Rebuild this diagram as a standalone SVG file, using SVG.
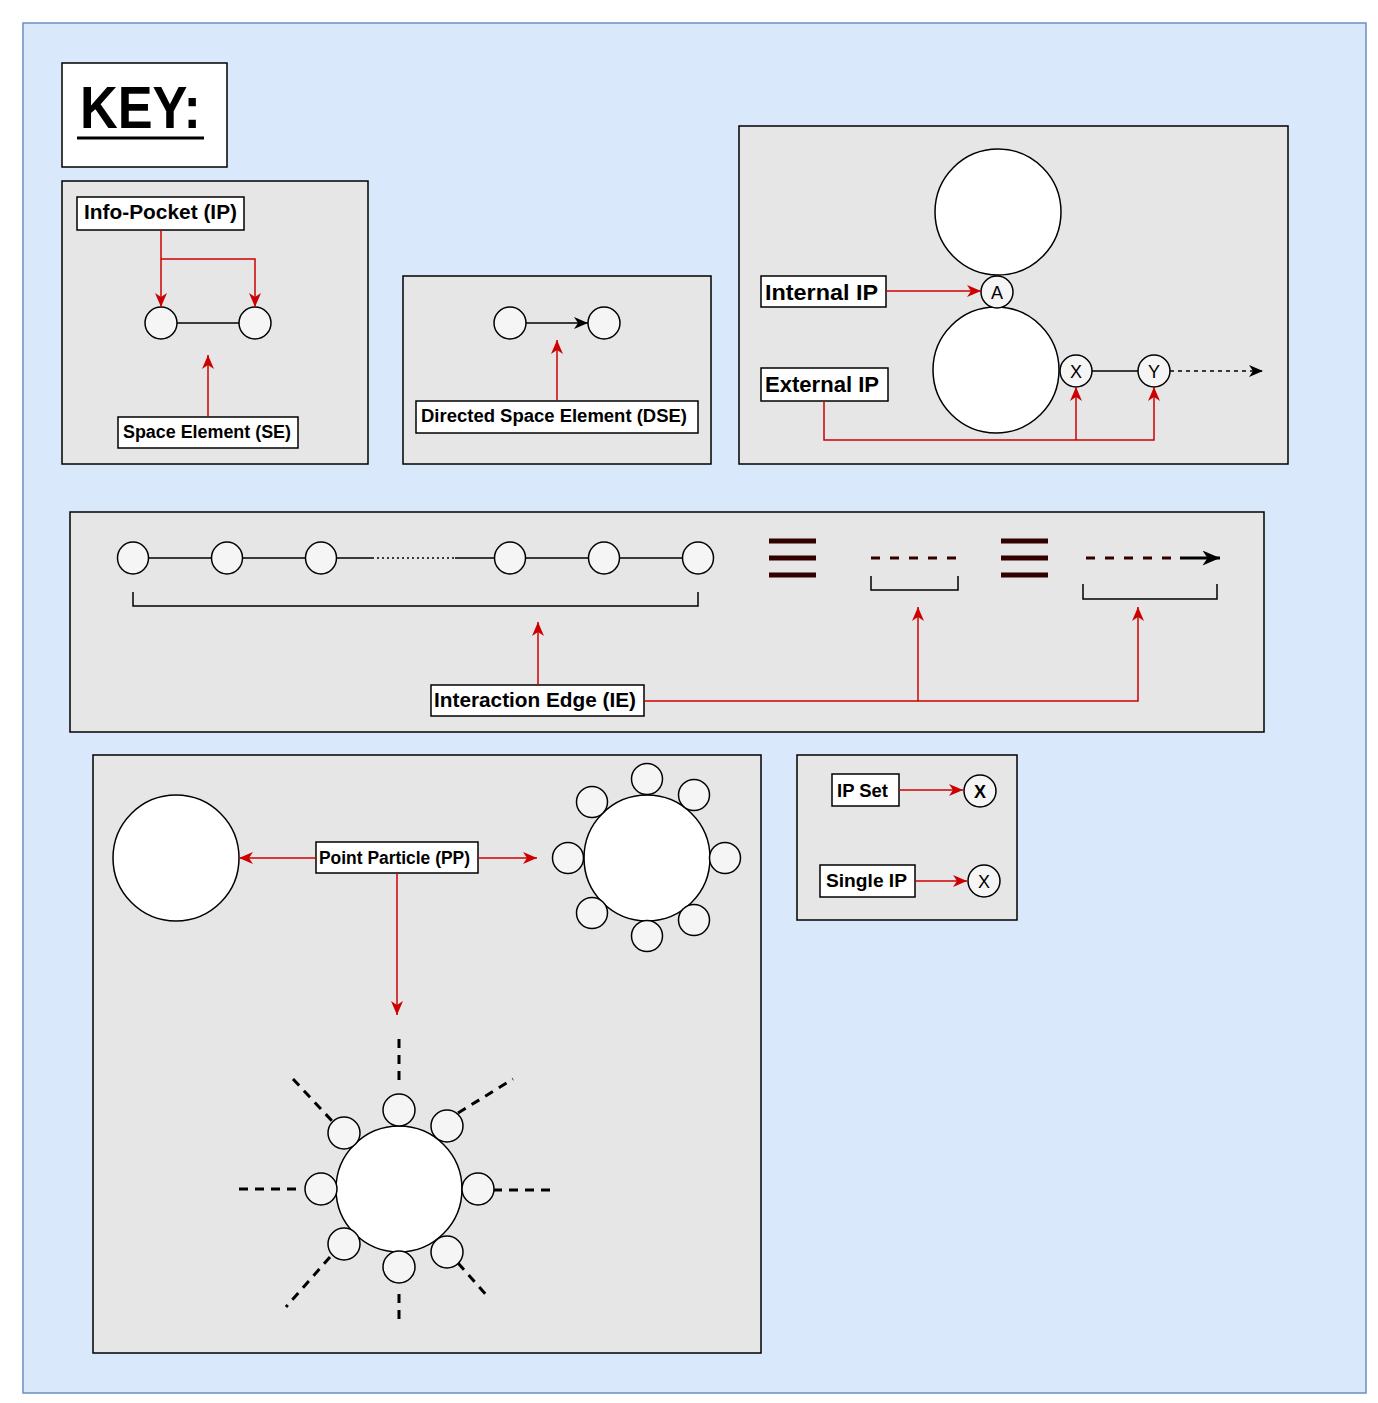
<svg xmlns="http://www.w3.org/2000/svg" width="1378" height="1403" viewBox="0 0 1378 1403">
<defs>
<style>
.panel{fill:#e6e6e6;stroke:#000;stroke-width:1.5}
.lbl{fill:#fff;stroke:#000;stroke-width:1.5}
.t{font-family:"Liberation Sans",Arial,sans-serif;font-weight:bold;fill:#000}
.ct{font-family:"Liberation Sans",Arial,sans-serif;font-size:18px;fill:#000;text-anchor:middle}
.sm{fill:#f5f5f5;stroke:#000;stroke-width:1.5}
.big{fill:#fff;stroke:#000;stroke-width:1.5}
.red{fill:none;stroke:#cc0000;stroke-width:1.5}
.blk{fill:none;stroke:#000;stroke-width:1.5}
.mar{fill:none;stroke:#330000}
.dash{fill:none;stroke:#000;stroke-width:3;stroke-dasharray:9 7}
</style>
<marker id="ar" viewBox="0 0 14 12" refX="14" refY="6" markerWidth="14" markerHeight="12" markerUnits="userSpaceOnUse" orient="auto">
<path d="M0,0 L14,6 L0,12 L4,6 z" fill="#cc0000"/>
</marker>
<marker id="ab" viewBox="0 0 14 12" refX="14" refY="6" markerWidth="14" markerHeight="12" markerUnits="userSpaceOnUse" orient="auto">
<path d="M0,0 L14,6 L0,12 L4,6 z" fill="#000"/>
</marker>
<marker id="ab2" viewBox="0 0 14 12" refX="14" refY="6" markerWidth="18" markerHeight="15" markerUnits="userSpaceOnUse" orient="auto">
<path d="M0,0 L14,6 L0,12 L4,6 z" fill="#000"/>
</marker>
</defs>
<rect x="23" y="23" width="1343" height="1370" fill="#dae8fc" stroke="#6c8ebf" stroke-width="1.5"/>

<g id="key">
<rect x="62" y="63" width="165" height="104" class="lbl"/>
<text x="80" y="128" class="t" font-size="60" textLength="121" lengthAdjust="spacingAndGlyphs">KEY:</text>
<line x1="77" y1="138" x2="204" y2="138" stroke="#000" stroke-width="3"/>
</g>

<g id="panel-se">
<rect x="62" y="181" width="306" height="283" class="panel"/>
<line x1="177" y1="323" x2="239" y2="323" class="blk"/>
<circle cx="161" cy="323" r="16" class="sm"/>
<circle cx="255" cy="323" r="16" class="sm"/>
</g>
<g id="label-ip">
<rect x="77" y="197" width="167" height="33" class="lbl"/>
<text x="84" y="219" class="t" font-size="20" textLength="153" lengthAdjust="spacingAndGlyphs">Info-Pocket (IP)</text>
</g>
<g id="label-se">
<rect x="118" y="417" width="180" height="31" class="lbl"/>
<text x="123" y="438" class="t" font-size="18" textLength="168" lengthAdjust="spacingAndGlyphs">Space Element (SE)</text>
</g>

<g id="panel-dse">
<rect x="403" y="276" width="308" height="188" class="panel"/>
<line x1="526" y1="323" x2="588" y2="323" class="blk" marker-end="url(#ab)"/>
<circle cx="510" cy="323" r="16" class="sm"/>
<circle cx="604" cy="323" r="16" class="sm"/>
</g>
<g id="label-dse">
<rect x="416" y="401" width="282" height="32" class="lbl"/>
<text x="421" y="422" class="t" font-size="18" textLength="266" lengthAdjust="spacingAndGlyphs">Directed Space Element (DSE)</text>
</g>

<g id="panel-ipkinds">
<rect x="739" y="126" width="549" height="338" class="panel"/>
<circle cx="998" cy="212" r="63" class="big"/>
<circle cx="996" cy="370" r="63" class="big"/>
<line x1="1092" y1="371" x2="1138" y2="371" class="blk"/>
<line x1="1170" y1="371" x2="1263" y2="371" stroke="#000" stroke-width="1.5" stroke-dasharray="4 4" marker-end="url(#ab)"/>
</g>
<g id="ip-a">
<circle cx="997" cy="292" r="16" class="sm"/>
<text x="997" y="299" class="ct">A</text>
</g>
<g id="ip-x">
<circle cx="1076" cy="371" r="16" class="sm"/>
<text x="1076" y="378" class="ct">X</text>
</g>
<g id="ip-y">
<circle cx="1154" cy="371" r="16" class="sm"/>
<text x="1154" y="378" class="ct">Y</text>
</g>
<g id="label-internal">
<rect x="761" y="276" width="125" height="31" class="lbl"/>
<text x="765" y="300" class="t" font-size="22" textLength="113" lengthAdjust="spacingAndGlyphs">Internal IP</text>
</g>
<g id="label-external">
<rect x="761" y="368" width="127" height="33" class="lbl"/>
<text x="765" y="392" class="t" font-size="22" textLength="114" lengthAdjust="spacingAndGlyphs">External IP</text>
</g>

<g id="panel-ie">
<rect x="70" y="512" width="1194" height="220" class="panel"/>
<path d="M149,558 H211 M243,558 H305 M337,558 H372 M455,558 H494 M526,558 H588 M620,558 H682" class="blk"/>
<line x1="372" y1="558" x2="455" y2="558" stroke="#000" stroke-width="1.5" stroke-dasharray="2 3"/>
<ellipse cx="133" cy="558" rx="15.5" ry="16" class="sm"/>
<ellipse cx="227" cy="558" rx="15.5" ry="16" class="sm"/>
<ellipse cx="321" cy="558" rx="15.5" ry="16" class="sm"/>
<ellipse cx="510" cy="558" rx="15.5" ry="16" class="sm"/>
<ellipse cx="604" cy="558" rx="15.5" ry="16" class="sm"/>
<ellipse cx="698" cy="558" rx="15.5" ry="16" class="sm"/>
<path d="M133,592 V606 H698 V592" class="blk"/>
<path d="M769,541 H816 M769,558 H816 M769,575 H816" class="mar" stroke-width="5"/>
<path d="M1001,541 H1048 M1001,558 H1048 M1001,575 H1048" class="mar" stroke-width="5"/>
<line x1="871" y1="558" x2="958" y2="558" class="mar" stroke-width="3" stroke-dasharray="9 10"/>
<path d="M871,576 V590 H958 V576" class="blk"/>
<line x1="1086" y1="558" x2="1180" y2="558" class="mar" stroke-width="3" stroke-dasharray="9 10"/>
<line x1="1180" y1="558" x2="1220" y2="558" stroke="#000" stroke-width="3" marker-end="url(#ab2)"/>
<path d="M1083,584 V599 H1217 V584" class="blk"/>
</g>
<g id="label-ie">
<rect x="431" y="685" width="213" height="31" class="lbl"/>
<text x="434" y="707" class="t" font-size="20" textLength="202" lengthAdjust="spacingAndGlyphs">Interaction Edge (IE)</text>
</g>

<g id="panel-pp">
<rect x="93" y="755" width="668" height="598" class="panel"/>
</g>
<g id="pp-plain">
<circle cx="176" cy="858" r="63" class="big"/>
</g>
<g id="pp-ips">
<circle cx="647" cy="858" r="63" class="big"/>
<circle cx="647" cy="779" r="15.5" class="sm"/>
<circle cx="694" cy="795" r="15.5" class="sm"/>
<circle cx="725" cy="858" r="15.5" class="sm"/>
<circle cx="694" cy="920" r="15.5" class="sm"/>
<circle cx="647" cy="936" r="15.5" class="sm"/>
<circle cx="592" cy="913" r="15.5" class="sm"/>
<circle cx="568" cy="858" r="15.5" class="sm"/>
<circle cx="592" cy="802" r="15.5" class="sm"/>
</g>
<g id="pp-edges">
<path d="M399,1039 V1087 M458,1113 L513,1079 M293,1079 L333,1122 M239,1189 H303 M493,1190 H553 M330,1257 L286,1307 M458,1263 L489,1298 M399,1294 V1323" class="dash"/>
<circle cx="399" cy="1189" r="63" class="big"/>
<circle cx="399" cy="1110" r="16" class="sm"/>
<circle cx="447" cy="1126" r="16" class="sm"/>
<circle cx="478" cy="1189" r="16" class="sm"/>
<circle cx="447" cy="1252" r="16" class="sm"/>
<circle cx="399" cy="1267" r="16" class="sm"/>
<circle cx="344" cy="1244" r="16" class="sm"/>
<circle cx="321" cy="1189" r="16" class="sm"/>
<circle cx="344" cy="1133" r="16" class="sm"/>
</g>
<g id="label-pp">
<rect x="316" y="842" width="162" height="31" class="lbl"/>
<text x="319" y="864" class="t" font-size="18" textLength="151" lengthAdjust="spacingAndGlyphs">Point Particle (PP)</text>
</g>

<g id="panel-ipset">
<rect x="797" y="755" width="220" height="165" class="panel"/>
</g>
<g id="label-ipset">
<rect x="832" y="774" width="67" height="32" class="lbl"/>
<text x="837" y="797" class="t" font-size="19" textLength="51" lengthAdjust="spacingAndGlyphs">IP Set</text>
</g>
<g id="ipset-x">
<circle cx="980" cy="791" r="16" class="sm"/>
<text x="980" y="798" class="ct" font-weight="bold">X</text>
</g>
<g id="label-single">
<rect x="820" y="865" width="95" height="32" class="lbl"/>
<text x="826" y="887" class="t" font-size="19" textLength="81" lengthAdjust="spacingAndGlyphs">Single IP</text>
</g>
<g id="single-x">
<circle cx="984" cy="881" r="16" class="sm"/>
<text x="984" y="888" class="ct">X</text>
</g>

<g id="connectors">
<path d="M161,230 V307" class="red" marker-end="url(#ar)"/>
<path d="M161,259 H255 V307" class="red" marker-end="url(#ar)"/>
<path d="M208,416 V355" class="red" marker-end="url(#ar)"/>
<path d="M557,400 V340" class="red" marker-end="url(#ar)"/>
<path d="M886,291 H981" class="red" marker-end="url(#ar)"/>
<path d="M824,401 V440 H1154 V387" class="red" marker-end="url(#ar)"/>
<path d="M1076,440 V387" class="red" marker-end="url(#ar)"/>
<path d="M538,685 V622" class="red" marker-end="url(#ar)"/>
<path d="M644,701 H1138 V607" class="red" marker-end="url(#ar)"/>
<path d="M918,701 V607" class="red" marker-end="url(#ar)"/>
<path d="M316,858 H239" class="red" marker-end="url(#ar)"/>
<path d="M478,858 H537" class="red" marker-end="url(#ar)"/>
<path d="M397,873 V1015" class="red" marker-end="url(#ar)"/>
<path d="M899,790 H963" class="red" marker-end="url(#ar)"/>
<path d="M915,881 H967" class="red" marker-end="url(#ar)"/>
</g>
</svg>
